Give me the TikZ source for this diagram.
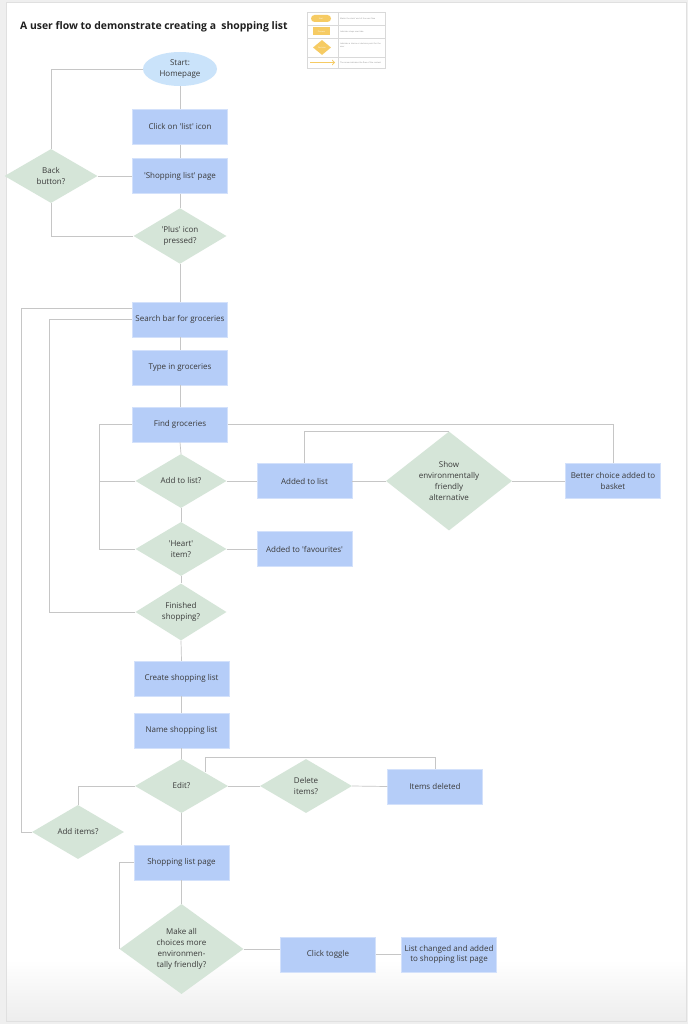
\documentclass[tikz,border=0pt]{standalone}
\usepackage{fontspec}
\setmainfont{Open Sans}
\usetikzlibrary{shapes.geometric,calc}
\definecolor{boxblue}{HTML}{B5CDF8}
\definecolor{startblue}{HTML}{CAE3FA}
\definecolor{decgreen}{HTML}{D5E5D8}
\definecolor{linegray}{HTML}{C6C6C6}
\definecolor{txtgray}{HTML}{3A3A3A}
\definecolor{keyyellow}{HTML}{F6CB63}
\definecolor{pagegray}{HTML}{EFEFEF}
\newcommand{\sqt}{\textquotesingle}
\tikzset{
	stepbox/.style={rectangle, fill=boxblue, draw=boxblue!60!white, line width=0.5pt, minimum width=95, minimum height=35, inner sep=1pt, align=center, text=txtgray, font=\fontsize{8}{10.5}\selectfont},
	choice/.style={diamond, fill=decgreen, minimum width=93, minimum height=54, inner sep=0pt, align=center, text=txtgray, font=\fontsize{8}{10.8}\selectfont},
	startnode/.style={ellipse, fill=startblue, minimum width=74, minimum height=34, inner sep=0pt, align=center, text=txtgray, font=\fontsize{8}{10.5}\selectfont},
	flow/.style={draw=linegray, line width=0.7pt},
	keyline/.style={draw=black!15, line width=0.4pt},
	keytext/.style={anchor=west, inner sep=0pt, text width=42, text=black!45, font=\fontsize{2}{2.6}\selectfont},
}
\begin{document}
\begin{tikzpicture}[x=1pt, y=-1pt]
	\useasboundingbox (0,0) rectangle (688,1024);
	% page
	\fill[pagegray] (0,0) rectangle (688,1024);
	\fill[white] (6,2) rectangle (686,1021);
	\shade[top color=white, bottom color=black!7] (6,960) rectangle (686,1021);
	\draw[black!12, line width=0.5pt] (6,2) rectangle (686,1021);

	\node[anchor=west, inner sep=0pt, text=black!88, font=\bfseries\fontsize{10.4}{12}\selectfont](title) at (20,27){A user flow to demonstrate creating a\ \ shopping list};

	% key
	\draw[keyline] (307,12) rectangle (385,68);
	\draw[keyline] (307,25) -- (385,25);
	\draw[keyline] (307,38) -- (385,38);
	\draw[keyline] (307,57) -- (385,57);
	\draw[keyline] (338,12) -- (338,68);
	\node[rectangle, rounded corners=3.5pt, fill=keyyellow, minimum width=20, minimum height=7, inner sep=0pt, text=white, font=\fontsize{2}{2.4}\selectfont](kstart) at (321,18.5){Start};
	\node[rectangle, fill=keyyellow, minimum width=17, minimum height=8, inner sep=0pt, text=white, font=\fontsize{2}{2.4}\selectfont](kstep) at (321.5,31.5){Process};
	\node[diamond, fill=keyyellow, minimum width=18, minimum height=15, inner sep=0pt, text=white, font=\fontsize{2}{2.4}\selectfont](kchoice) at (322,47.5){Decision};
	\coordinate (karrowa) at (310,62.5);
	\coordinate (karrowb) at (335,62.5);
	\draw[keyyellow, line width=1pt, ->] (karrowa) -- (karrowb);
	\node[keytext](kstarttxt) at (340,18.5){Marks the start/ end of the user flow};
	\node[keytext](ksteptxt) at (340,31.5){Indicates steps user take};
	\node[keytext](kchoicetxt) at (340,45){Indicates a choice or decision point for the user};
	\node[keytext](karrowtxt) at (340,62.5){The arrow indicates the flow of the content};

	% top part
	\node[startnode](start) at (180,69){Start:\\Homepage};
	\node[stepbox](click) at (180,127){Click on \sqt list\sqt{} icon};
	\node[stepbox](shoplist) at (180,176){\sqt Shopping list\sqt{} page};
	\node[choice](back) at (51,176){Back\\button?};
	\node[choice](plus) at (180,236){\sqt Plus\sqt{} icon\\pressed?};

	% searching
	\node[stepbox](search) at (180,319.5){Search bar for groceries};
	\node[stepbox](type) at (180,367.5){Type in groceries};
	\node[stepbox](find) at (180,424.5){Find groceries};
	\node[choice, minimum width=91](addq) at (181,481){Add to list?};
	\node[stepbox](added) at (304.5,481){Added to list};
	\node[choice, minimum width=126, minimum height=90](showalt) at (449,481){Show\\environmentally\\friendly\\alternative};
	\node[stepbox](better) at (613,481){Better choice added to\\basket};
	\node[choice, minimum width=91](heart) at (181,549){\sqt Heart\sqt\\item?};
	\node[stepbox](fav) at (304.5,549){Added to \sqt favourites\sqt};
	\node[choice, minimum width=91](finished) at (181,612){Finished\\shopping?};

	% list
	\node[stepbox](create) at (181.5,678.5){Create shopping list};
	\node[stepbox](name) at (181.5,730.5){Name shopping list};
	\node[choice](edit) at (181.5,786){Edit?};
	\node[choice, minimum width=92](delq) at (306,786){Delete\\items?};
	\node[stepbox](deleted) at (435,786.5){Items deleted};
	\node[choice, minimum width=92](additems) at (78,832){Add items?};
	\node[stepbox](slpage) at (181.5,862.5){Shopping list page};
	\node[choice, minimum width=124, minimum height=90](makeall) at (181.5,949){Make all\\choices more\\environmen-\\tally friendly?};
	\node[stepbox](toggle) at (328,954.5){Click toggle};
	\node[stepbox](changed) at (449,954.5){List changed and added\\to shopping list page};

	\coordinate (innerx) at (49,0);
	\coordinate (outerx) at (21,0);
	\coordinate (loopx) at (99,0);
	\coordinate (searchtop) at ([yshift=-7pt]search.north west);
	\coordinate (editedge) at ($(edit.north)!0.5!(edit.east)$);

	\draw[flow] (start.south) -- (click.north);
	\draw[flow] (click.south) -- (shoplist.north);
	\draw[flow] (shoplist.south) -- (plus.north);
	\draw[flow] (start.west) -| (back.north);
	\draw[flow] (back.east) -- (shoplist.west);
	\draw[flow] (plus.west) -| (back.south);
	\draw[flow] (plus.south) -- (search.north);
	\draw[flow] (search.south) -- (type.north);
	\draw[flow] (type.south) -- (find.north);
	\draw[flow] (find.south) -- (addq.north);
	\draw[flow] (addq.south) -- (heart.north);
	\draw[flow] (heart.south) -- (finished.north);
	\draw[flow] (find.east) -| (better.north);
	\draw[flow] (addq.east) -- (added.west);
	\draw[flow] (added.east) -- (showalt.west);
	\draw[flow] (showalt.east) -- (better.west);
	\draw[flow] (added.north) |- (showalt.north);
	\draw[flow] (heart.east) -- (fav.west);
	\draw[flow] (find.west) -- (loopx |- find.west) |- (heart.west);
	\draw[flow] (addq.west) -- (loopx |- addq.west);
	\draw[flow] (finished.west) -| (innerx |- search.west) -- (search.west);
	\draw[flow] (additems.west) -| (outerx |- searchtop) -- (searchtop);
	\draw[flow] (finished.south) -- (create.north);
	\draw[flow] (create.south) -- (name.north);
	\draw[flow] (name.south) -- (edit.north);
	\draw[flow] (edit.west) -| (additems.north);
	\draw[flow] (edit.east) -- (delq.west);
	\draw[flow] (delq.east) -- (deleted.west);
	\draw[flow] (deleted.north) -- ++(0,-11) -| (editedge);
	\draw[flow] (edit.south) -- (slpage.north);
	\draw[flow] (slpage.south) -- (makeall.north);
	\draw[flow] (slpage.west) -| (makeall.west);
	\draw[flow] (makeall.east) -- (makeall.east -| toggle.west);
	\draw[flow] (toggle.east) -- (changed.west);
\end{tikzpicture}
\end{document}
